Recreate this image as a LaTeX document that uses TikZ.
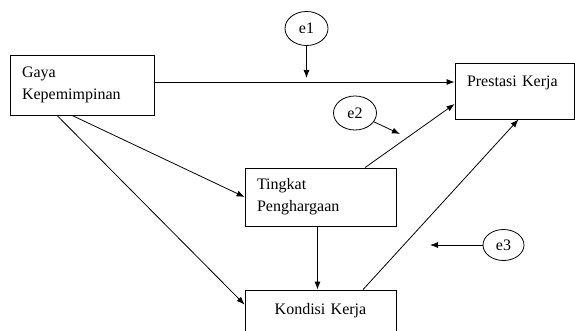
\documentclass[tikz,border=0pt]{standalone}
\usepackage{fontspec}
\setmainfont{Liberation Serif}
\usetikzlibrary{arrows.meta,shapes.geometric}

\begin{document}
\begin{tikzpicture}[x=1pt, y=-1pt, line width=0.8pt, >={Latex[length=8pt,width=6pt]},
  every node/.style={font=\fontsize{16}{22}\selectfont},
  kotak/.style={draw, rectangle, inner xsep=12pt, inner ysep=8pt},
  galat/.style={draw, ellipse, inner sep=0pt, minimum width=43pt, minimum height=34pt}]

\useasboundingbox (0,0) rectangle (575,331);


\node[kotak, text width=120pt, minimum height=60pt, align=left] (gaya) at (82,85) {Gaya\\Kepemimpinan};
\node[kotak, text width=95pt, text height=16pt, text depth=24pt, align=left] (prestasi) at (514.5,91) {Prestasi Kerja};
\node[kotak, text width=127pt, minimum height=58pt, align=left] (tingkat) at (320.5,197) {Tingkat\\Penghargaan};
\node[kotak, text width=127pt, text height=16pt, text depth=24pt, align=center] (kondisi) at (320.5,318) {Kondisi Kerja};


\node[galat] (e1) at (306.5,28.5) {e1};
\node[galat] (e2) at (355,113) {e2};
\node[galat, minimum width=41pt, minimum height=31pt] (e3) at (503.5,245) {e3};

\coordinate (t1) at (306.5,78);
\coordinate (t2) at (400,134);
\coordinate (t3) at (430,245);


\draw[->] ([yshift=3pt]gaya.east) -- ([yshift=9pt]prestasi.west);
\draw[->] ([xshift=-10pt]gaya.south) -- (tingkat.west);
\draw[->] ([xshift=-25pt]gaya.south) -- ([yshift=-15pt]kondisi.north west);
\draw[->] ([xshift=44.5pt]tingkat.north) -- ([yshift=-13pt]prestasi.west);
\draw[->] ([xshift=-3pt]tingkat.south) -- ([xshift=-3pt]kondisi.north);
\draw[->] ([xshift=42.5pt]kondisi.north) -- ([xshift=4pt]prestasi.south);


\draw[->] (e1) -- (t1);
\draw[->] (e2) -- (t2);
\draw[->] (e3) -- (t3);

\end{tikzpicture}
\end{document}
